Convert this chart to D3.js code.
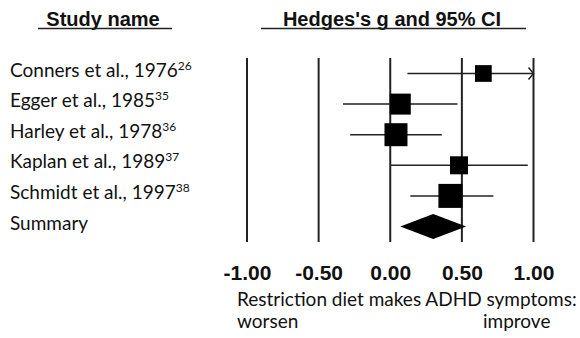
<!DOCTYPE html>
<html>
<head>
<meta charset="utf-8">
<script src="https://cdn.jsdelivr.net/npm/d3@7"></script>
<style>
  body { margin: 0; background: #fff; }
</style>
</head>
<body>
<div id="chart"></div>
<script>
// forest plot data
var studies = ["Conners et al., 1976", "Egger et al., 1985", "Harley et al., 1978", "Kaplan et al., 1989", "Schmidt et al., 1997"];
var refs = ["26", "35", "36", "37", "38"];
var effect = [0.65, 0.07, 0.04, 0.48, 0.42];
var lower = [0.12, -0.33, -0.28, 0.00, 0.14];
var upper = [1.18, 0.47, 0.36, 0.96, 0.72];
var weight = [13.0, 20.5, 24.6, 15.1, 26.8];
var summary = { label: "Summary", g: 0.30, lo: 0.07, hi: 0.53 };
var ticks = [-1, -0.5, 0, 0.5, 1];

var width = 580, height = 338;

var svg = d3.select("#chart").append("svg")
    .attr("width", width).attr("height", height);

var x = d3.scaleLinear().domain([-1, 1]).range([247, 533.5]);

var rows = studies.concat([summary.label]);
var y = d3.scalePoint().domain(rows).range([73.5, 226.5]);

var side = d3.scaleSqrt().domain([0, d3.max(weight)]).range([0, 24]);

var labelFont = "Lato, 'Open Sans', sans-serif";
var boldFont = "'Liberation Sans', Arial, sans-serif";

// column headers with the long underlines
var headers = [
    { text: "Study name", cx: 103, x0: 38, x1: 172 },
    { text: "Hedges's g and 95% CI", cx: 392, x0: 261, x1: 526 }
];
svg.selectAll("text.header").data(headers).enter().append("text")
    .attr("class", "header")
    .attr("x", function(d) { return d.cx; })
    .attr("y", 25.5)
    .attr("text-anchor", "middle")
    .style("font-family", boldFont)
    .style("font-weight", "bold")
    .style("font-size", "20px")
    .attr("fill", "#111")
    .text(function(d) { return d.text; });
svg.selectAll("line.header").data(headers).enter().append("line")
    .attr("class", "header")
    .attr("x1", function(d) { return d.x0; })
    .attr("x2", function(d) { return d.x1; })
    .attr("y1", 28.5).attr("y2", 28.5)
    .attr("stroke", "#222").attr("stroke-width", 1.5);

// vertical reference lines
svg.selectAll("line.grid").data(ticks).enter().append("line")
    .attr("class", "grid")
    .attr("x1", function(d) { return x(d); })
    .attr("x2", function(d) { return x(d); })
    .attr("y1", 58).attr("y2", 242)
    .attr("stroke", "#222").attr("stroke-width", 2);

// tick labels through a bottom axis (plain hyphen for minus)
var fmt = d3.format(".2f");
var axis = d3.axisBottom(x).tickValues(ticks).tickSize(0).tickPadding(0)
    .tickFormat(function(d) { return fmt(d).replace("\u2212", "-"); });
var gAxis = svg.append("g").attr("transform", "translate(0,265)").call(axis);
gAxis.select(".domain").remove();
gAxis.selectAll("text")
    .attr("dy", "0.71em")
    .style("font-family", boldFont)
    .style("font-weight", "bold")
    .style("font-size", "21px")
    .attr("fill", "#111");

// study labels with superscript refs
var labels = svg.selectAll("text.study").data(rows).enter().append("text")
    .attr("class", "study")
    .attr("x", 10)
    .attr("y", function(d) { return y(d) + 3; })
    .style("font-family", labelFont)
    .style("font-size", "19px")
    .attr("fill", "#111");
labels.append("tspan").text(function(d) { return d; });
labels.append("tspan")
    .attr("dy", -7)
    .style("font-size", "12px")
    .text(function(d, i) { return refs[i] || ""; });

// confidence intervals
var idx = d3.range(studies.length);
svg.selectAll("line.ci").data(idx).enter().append("line")
    .attr("class", "ci")
    .attr("x1", function(i) { return x(Math.max(lower[i], -1)); })
    .attr("x2", function(i) { return x(Math.min(upper[i], 1)); })
    .attr("y1", function(i) { return y(studies[i]); })
    .attr("y2", function(i) { return y(studies[i]); })
    .attr("stroke", "#222").attr("stroke-width", 1.5);

// arrow where the interval runs off the scale
svg.selectAll("path.arrow").data(idx.filter(function(i) { return upper[i] > 1; })).enter().append("path")
    .attr("class", "arrow")
    .attr("d", function(i) {
        var ax = x(1), ay = y(studies[i]);
        return "M" + (ax - 5) + "," + (ay - 6) + "L" + ax + "," + ay + "L" + (ax - 5) + "," + (ay + 6);
    })
    .attr("fill", "none").attr("stroke", "#222").attr("stroke-width", 1.5);

// weighted squares
svg.selectAll("rect.est").data(idx).enter().append("rect")
    .attr("class", "est")
    .attr("x", function(i) { return x(effect[i]) - side(weight[i]) / 2; })
    .attr("y", function(i) { return y(studies[i]) - side(weight[i]) / 2; })
    .attr("width", function(i) { return side(weight[i]); })
    .attr("height", function(i) { return side(weight[i]); })
    .attr("fill", "#000");

// summary diamond
var sy = y(summary.label);
svg.append("path")
    .attr("d", "M" + x(summary.lo) + "," + sy + "L" + x(summary.g) + "," + (sy - 12.5) +
        "L" + x(summary.hi) + "," + sy + "L" + x(summary.g) + "," + (sy + 12.5) + "Z")
    .attr("fill", "#000");

// axis caption
var caption = [
    { text: "Restriction diet makes ADHD symptoms:", x: 237, y: 306 },
    { text: "worsen", x: 237, y: 328 },
    { text: "improve", x: 483, y: 328 }
];
svg.selectAll("text.caption").data(caption).enter().append("text")
    .attr("class", "caption")
    .attr("x", function(d) { return d.x; })
    .attr("y", function(d) { return d.y; })
    .style("font-family", labelFont).style("font-size", "19px").attr("fill", "#111")
    .text(function(d) { return d.text; });
</script>
</body>
</html>
